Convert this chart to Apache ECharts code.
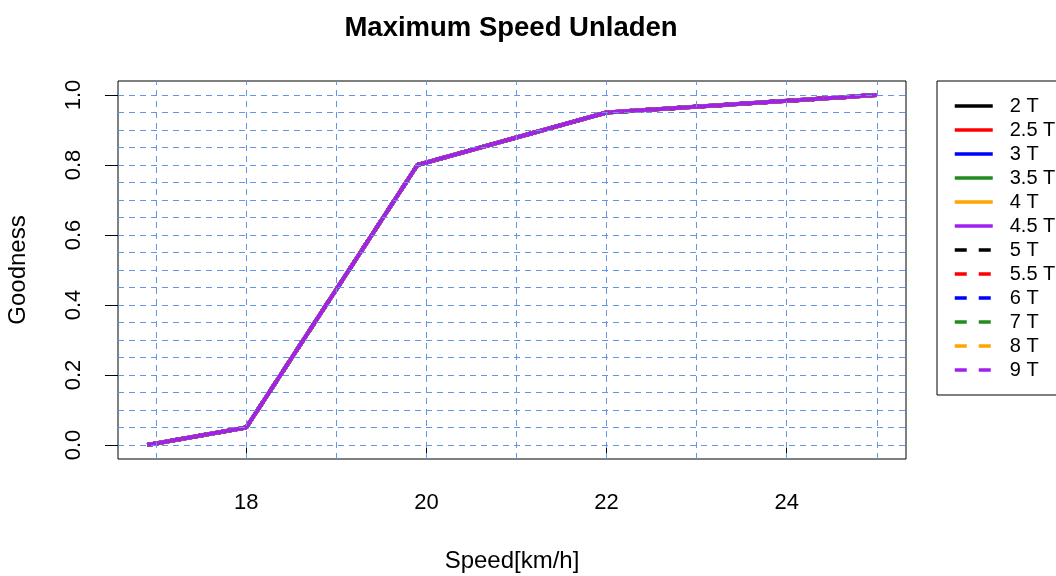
<!DOCTYPE html>
<html>
<head>
<meta charset="utf-8">
<script src="https://cdn.jsdelivr.net/npm/echarts@6/dist/echarts.min.js"></script>
<style>
html, body { margin: 0; padding: 0; background: #fff; }
#chart { width: 1056px; height: 576px; }
</style>
</head>
<body>
<div id="chart"></div>
<script>
// data (all curves lie on top of each other)
const speeds = [16.9, 18, 19.9, 22, 25];
const goodness = [0, 0.05, 0.8, 0.95, 1.0];
const seriesNames = ['2 T', '2.5 T', '3 T', '3.5 T', '4 T', '4.5 T', '5 T', '5.5 T', '6 T', '7 T', '8 T', '9 T'];
const seriesColors = ['#000000', '#FF0000', '#0000FF', '#228B22', '#FFA500', '#A020F0',
                      '#000000', '#FF0000', '#0000FF', '#228B22', '#FFA500', '#A020F0'];
const seriesDashed = [false, false, false, false, false, false, true, true, true, true, true, true];
const xTicks = [18, 20, 22, 24];
const yTicks = [0, 0.2, 0.4, 0.6, 0.8, 1.0];
const xGrid = [17, 18, 19, 20, 21, 22, 23, 24, 25];
const yGrid = [0, 0.05, 0.1, 0.15, 0.2, 0.25, 0.3, 0.35, 0.4, 0.45, 0.5, 0.55, 0.6, 0.65, 0.7, 0.75, 0.8, 0.85, 0.9, 0.95, 1.0];

const font = "'Liberation Sans', Arial, sans-serif";
const dash = [12, 12];
const chart = echarts.init(document.getElementById('chart'));

let series = seriesNames.map((name, i) => ({
    name: name,
    type: 'line',
    symbol: 'none',
    silent: true,
    animation: false,
    lineStyle: {
        color: seriesColors[i],
        width: 4,
        type: seriesDashed[i] ? dash : 'solid'
    },
    itemStyle: { color: seriesColors[i] },
    data: speeds.map((s, k) => [s, goodness[k]])
}));

// dashed grid drawn over the curves, like abline(v=..., h=...)
series.push({
    name: 'grid',
    type: 'line',
    data: [],
    silent: true,
    animation: false,
    markLine: {
        silent: true,
        animation: false,
        symbol: ['none', 'none'],
        label: { show: false },
        lineStyle: { color: '#6495ED', width: 1, type: [6, 5], opacity: 1 },
        emphasis: { disabled: true },
        data: xGrid.map(v => ({ xAxis: v })).concat(yGrid.map(v => ({ yAxis: v })))
    }
});

chart.setOption({
    animation: false,
    backgroundColor: '#fff',
    textStyle: { fontFamily: font, color: '#000' },
    title: {
        text: 'Maximum Speed Unladen',
        left: 506,
        textAlign: 'center',
        top: 9,
        textStyle: { fontFamily: font, fontSize: 27.5, fontWeight: 'bold', color: '#000' }
    },
    legend: {
        data: seriesNames.map((name, i) => ({
            name: name,
            itemStyle: { opacity: 0 },
            lineStyle: { color: seriesColors[i], width: 3.5, type: seriesDashed[i] ? dash : 'solid' }
        })),
        orient: 'vertical',
        left: 937,
        top: 81,
        padding: [13, 20, 13, 16],
        itemGap: 0,
        itemWidth: 38,
        itemHeight: 14,
        borderColor: '#000',
        borderWidth: 1,
        selectedMode: false,
        textStyle: { fontFamily: font, fontSize: 20, color: '#000', lineHeight: 24, padding: [0, 0, 0, 12] }
    },
    grid: {
        left: 118,
        right: 150,
        top: 81,
        bottom: 117,
        outerBoundsMode: 'none',
        show: true,
        borderColor: '#000',
        borderWidth: 1,
        backgroundColor: 'transparent'
    },
    xAxis: {
        type: 'value',
        min: 16.576,
        max: 25.324,
        name: 'Speed[km/h]',
        nameLocation: 'middle',
        nameGap: 90,
        nameTextStyle: { fontFamily: font, fontSize: 24, color: '#000' },
        axisLine: { show: false },
        splitLine: { show: false },
        axisTick: { show: true, inside: false, length: 13, customValues: xTicks, lineStyle: { color: '#000' } },
        axisLabel: { customValues: xTicks, margin: 33, fontFamily: font, fontSize: 22, color: '#000' }
    },
    yAxis: {
        type: 'value',
        min: -0.04,
        max: 1.04,
        name: 'Goodness',
        nameLocation: 'middle',
        nameGap: 88,
        nameRotate: 90,
        nameTextStyle: { fontFamily: font, fontSize: 24, color: '#000' },
        axisLine: { show: false },
        splitLine: { show: false },
        axisTick: { show: true, inside: false, length: 13, customValues: yTicks, lineStyle: { color: '#000' } },
        axisLabel: {
            customValues: yTicks,
            rotate: 90,
            margin: 33,
            fontFamily: font,
            fontSize: 22,
            color: '#000',
            formatter: v => v.toFixed(1)
        }
    },
    series: series
});
</script>
</body>
</html>
